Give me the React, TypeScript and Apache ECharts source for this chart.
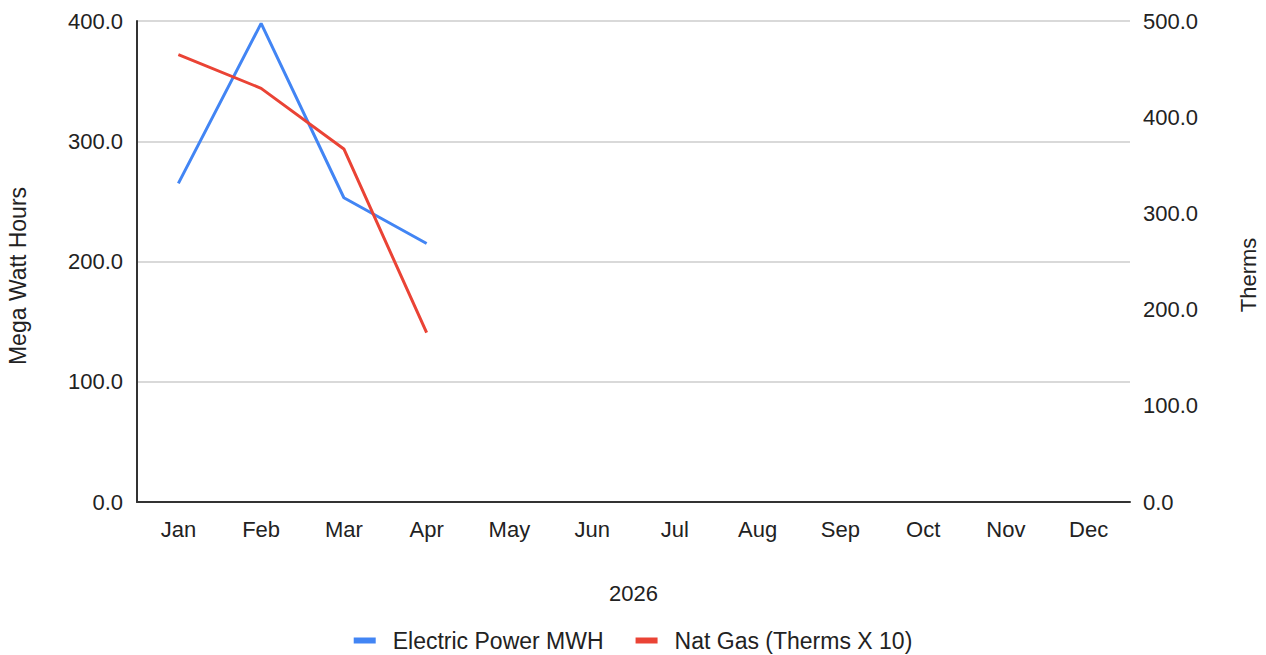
import React, { useEffect, useRef } from "react";
import * as echarts from "echarts";

const months = ["Jan", "Feb", "Mar", "Apr", "May", "Jun", "Jul", "Aug", "Sep", "Oct", "Nov", "Dec"];
const electric = [265, 398, 253, 215, null, null, null, null, null, null, null, null];
const natGas = [465, 430, 367, 176, null, null, null, null, null, null, null, null];
const xName = "2026";
const leftName = "Mega Watt Hours";
const rightName = "Therms";
const seriesNames = ["Electric Power MWH", "Nat Gas (Therms X 10)"];

const FONT = "Liberation Sans, Arial, sans-serif";
const FS = 22;

export default function App() {
  const ref = useRef<HTMLDivElement>(null);
  useEffect(() => {
    if (!ref.current) return;
    const chart = echarts.init(ref.current, undefined, { renderer: "svg" });
    chart.setOption({
      animation: false,
      textStyle: { fontFamily: FONT },
      grid: { left: 137, right: 136, top: 21, bottom: 153 },
      legend: {
        top: 629,
        left: "center",
        padding: 0,
        itemWidth: 22,
        itemHeight: 6,
        itemGap: 32,
        icon: "rect",
        textStyle: { fontSize: 23, color: "#222", fontFamily: FONT, padding: [0, 0, 0, 12] },
        data: seriesNames,
      },
      xAxis: {
        type: "category",
        data: months,
        boundaryGap: true,
        name: xName,
        nameLocation: "middle",
        nameGap: 80,
        nameTextStyle: { fontSize: FS, color: "#222", fontFamily: FONT },
        axisLine: { show: true, lineStyle: { color: "#333", width: 2 } },
        axisTick: { show: false },
        axisLabel: { fontSize: FS, color: "#222", margin: 16, fontFamily: FONT },
      },
      yAxis: [
        {
          type: "value",
          min: 0,
          max: 400,
          interval: 100,
          axisLine: { show: true, lineStyle: { color: "#333", width: 2 } },
          axisTick: { show: false },
          splitLine: { show: true, lineStyle: { color: "#ccc", width: 1.5 } },
          axisLabel: {
            fontSize: FS,
            color: "#222",
            margin: 14,
            fontFamily: FONT,
            formatter: (v: number) => v.toFixed(1),
          },
        },
        {
          type: "value",
          min: 0,
          max: 500,
          interval: 100,
          position: "right",
          axisLine: { show: false },
          axisTick: { show: false },
          splitLine: { show: false },
          axisLabel: {
            fontSize: FS,
            color: "#222",
            margin: 13,
            fontFamily: FONT,
            formatter: (v: number) => v.toFixed(1),
          },
        },
      ],
      graphic: [
        {
          type: "text",
          x: 18,
          y: 276,
          rotation: Math.PI / 2,
          style: {
            text: leftName,
            fontSize: 23,
            fill: "#222",
            fontFamily: FONT,
            align: "center",
            verticalAlign: "middle",
          },
        },
        {
          type: "text",
          x: 1248,
          y: 275,
          rotation: Math.PI / 2,
          style: {
            text: rightName,
            fontSize: FS,
            fill: "#222",
            fontFamily: FONT,
            align: "center",
            verticalAlign: "middle",
          },
        },
      ],
      series: [
        {
          name: seriesNames[0],
          type: "line",
          yAxisIndex: 0,
          data: electric,
          showSymbol: false,
          symbol: "none",
          color: "#4285F4",
          lineStyle: { width: 3, color: "#4285F4" },
        },
        {
          name: seriesNames[1],
          type: "line",
          yAxisIndex: 1,
          data: natGas,
          showSymbol: false,
          symbol: "none",
          color: "#EA4335",
          lineStyle: { width: 3, color: "#EA4335" },
        },
      ],
    });
    return () => chart.dispose();
  }, []);
  return (
    <div
      ref={ref}
      style={{ width: 1266, height: 655, position: "absolute", left: 0, top: 0 }}
    />
  );
}
